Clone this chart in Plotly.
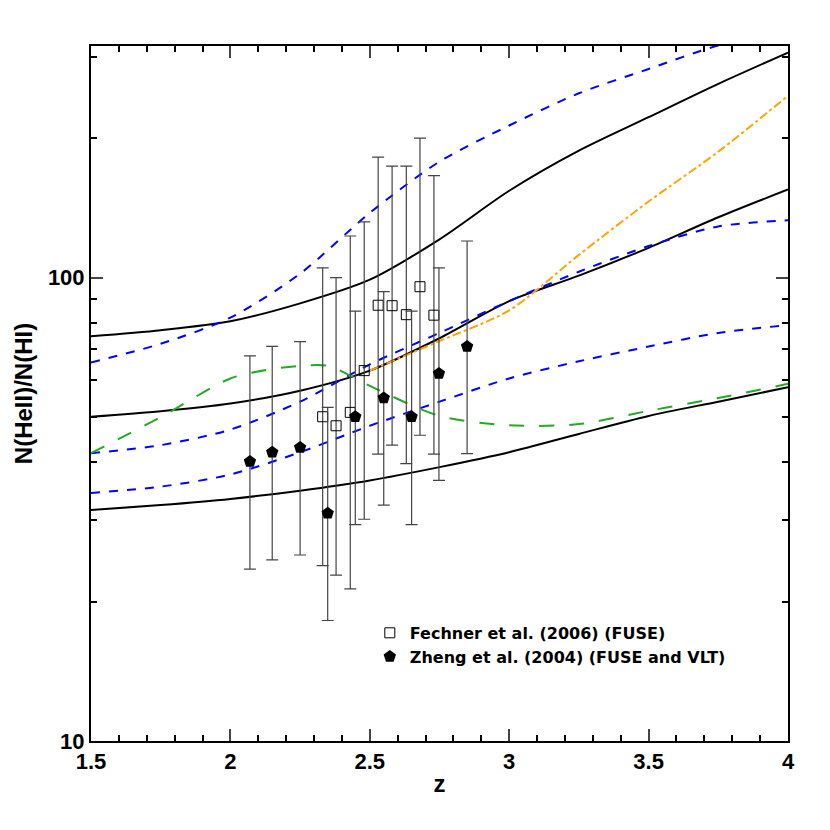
import plotly.graph_objects as go

grid = [1.5,1.75,2.0,2.25,2.5,2.75,3.0,3.25,3.5,3.75,4.0]
black_hi = [74.7,77,80.5,88,99,121,154,188,222,262,306]
black_mid = [50.1,51.5,53.5,57,63,74,89,101,116,135,155]
black_lo = [31.5,32.3,33.3,34.7,36.5,39,42,46,50.3,54,58]
blue_hi = [65.6,72,82,102,138,178,213,250,282,317,340]
blue_mid = [41.8,43.5,47,54,65,76,89,103,117,129,133]
blue_lo = [34.3,35.4,37.6,42,47.9,54,60.6,66,71,76,79]
green_x = [1.5,1.75,2.0,2.15,2.25,2.35,2.5,2.75,3.0,3.25,3.5,3.75,4.0]
green = [41.8,50,60.6,63.5,64.5,64.5,58.4,50.3,48,48.3,51.6,55,59]
orange_x = [2.5,2.75,3.0,3.25,3.5,3.75,4.0]
orange = [63,73,85,112,146,187,247]

fz = [2.331,2.379,2.43,2.48,2.53,2.58,2.631,2.68,2.73]
fv = [50.1,47.9,51.2,63,87.2,87,83.2,95.6,83]
fhi = [105,100,123,132,182,174,174,200,166]
flo = [23.9,22.8,21.3,30.1,41.6,43.5,39.7,45.7,41.6]
zz = [2.07,2.15,2.25,2.349,2.448,2.55,2.65,2.748,2.849]
zv = [40.1,42,43,31,50.1,55,50.1,62.1,71]
zhi = [67.8,71.1,72.8,52.5,84.7,93.3,84.7,105,120]
zlo = [23.5,24.6,25.2,18.2,29.3,32.3,29.3,36.5,41.7]

fig = go.Figure()
def line(x, y, color, dash, w=2):
    fig.add_trace(go.Scatter(x=x, y=y, mode="lines", line=dict(color=color, dash=dash, width=w, shape="spline", smoothing=0.8), showlegend=False))
line(grid, black_hi, "black", "solid")
line(grid, black_mid, "black", "solid")
line(grid, black_lo, "black", "solid")
line(grid, blue_hi, "blue", "dash")
line(grid, blue_mid, "blue", "dash")
line(grid, blue_lo, "blue", "dash")
line(green_x, green, "#22aa22", "longdash")
line(orange_x, orange, "orange", "dashdot")

fig.add_trace(go.Scatter(x=fz, y=fv, mode="markers", name="<b>Fechner et al. (2006) (FUSE)</b>",
    marker=dict(symbol="square-open", size=10, color="black", line=dict(width=1)),
    error_y=dict(type="data", symmetric=False, array=[h-v for h,v in zip(fhi,fv)], arrayminus=[v-l for v,l in zip(fv,flo)], color="#444", thickness=1.2, width=6)))
fig.add_trace(go.Scatter(x=zz, y=zv, mode="markers", name="<b>Zheng et al. (2004) (FUSE and VLT)</b>",
    marker=dict(symbol="pentagon", size=13, color="black"),
    error_y=dict(type="data", symmetric=False, array=[h-v for h,v in zip(zhi,zv)], arrayminus=[v-l for v,l in zip(zv,zlo)], color="#444", thickness=1.2, width=6)))

ax = dict(showline=True, linecolor="black", linewidth=2, mirror="ticks", ticks="inside", ticklen=12, tickwidth=1.5,
          showgrid=False, zeroline=False, tickfont=dict(size=22, color="black", family="Liberation Sans"))
fig.update_xaxes(**ax, range=[1.5,4], tickvals=[1.5,2,2.5,3,3.5,4], ticktext=["<b>1.5</b>","<b>2</b>","<b>2.5</b>","<b>3</b>","<b>3.5</b>","<b>4</b>"],
                 minor=dict(dtick=0.1, ticks="inside", ticklen=6, tickcolor="black"),
                 title=dict(text="<b>z</b>", font=dict(size=24, color="black"), standoff=2))
fig.update_yaxes(**ax, type="log", range=[1,2.5], tickvals=[10,100], ticktext=["<b>10</b>","<b>100</b>"],
                 minor=dict(tickvals=[20,30,40,50,60,70,80,90,200,300], ticks="inside", ticklen=6, tickcolor="black"),
                 title=dict(text="<b>N(HeII)/N(HI)</b>", font=dict(size=24, color="black"), standoff=8))
fig.update_layout(width=830, height=830, plot_bgcolor="white", paper_bgcolor="white",
                  margin=dict(l=83, r=50, t=38, b=97), font=dict(family="Liberation Sans"),
                  legend=dict(x=0.4, y=0.18, xanchor="left", yanchor="top", bgcolor="rgba(0,0,0,0)",
                              font=dict(size=16, color="black", family="DejaVu Sans")))
fig.write_html("out.html")
